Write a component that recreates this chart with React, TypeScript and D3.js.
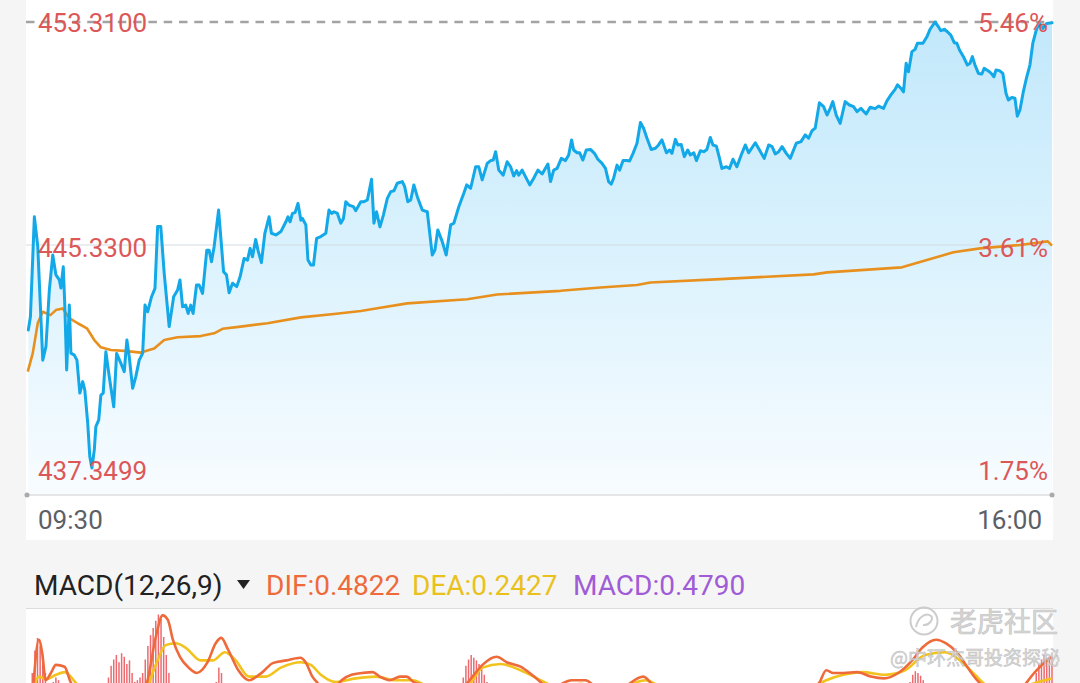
import React from "react";
import * as d3 from "d3";

type P = [number, number];

// Intraday price: [minutes since 09:30, price]
const pricePoints: P[] = [
  [0.5, 442.29], [1.3, 442.76], [2.8, 446.34], [4.1, 445.27], [5.1, 443.12], [6.0, 441.21], [7.2, 441.69], [8.5, 443.72],
  [9.8, 444.97], [11.0, 444.26], [12.3, 444.08], [12.9, 443.79], [13.8, 444.55], [14.4, 443.12], [15.1, 440.86], [16.1, 443.18],
  [16.7, 441.46], [18.0, 441.39], [19.0, 441.21], [20.1, 440.03], [21.2, 440.44], [22.0, 440.14], [23.1, 438.96], [23.9, 437.75],
  [24.7, 437.35], [25.6, 437.99], [26.2, 438.83], [27.3, 439.07], [28.1, 439.96], [29.0, 440.03], [30.0, 441.51], [31.3, 440.62],
  [33.0, 439.54], [34.1, 441.45], [35.7, 441.10], [37.0, 440.80], [38.0, 441.93], [38.9, 441.33], [40.2, 440.20], [41.4, 440.62],
  [42.7, 441.21], [44.0, 441.45], [44.9, 443.18], [45.9, 442.94], [47.4, 443.48], [48.7, 443.78], [49.7, 445.99], [50.9, 445.99],
  [52.2, 444.32], [54.1, 442.41], [55.8, 443.48], [57.3, 443.72], [58.2, 444.08], [59.2, 443.12], [60.4, 443.18], [61.3, 442.88],
  [62.3, 443.18], [63.2, 442.88], [64.5, 443.90], [65.5, 443.90], [66.8, 443.60], [68.4, 445.14], [69.3, 445.14], [70.2, 444.73],
  [71.2, 445.27], [72.9, 446.58], [74.8, 444.37], [75.9, 444.26], [76.9, 443.62], [78.2, 443.96], [79.8, 443.84], [81.1, 444.20],
  [82.6, 444.85], [83.9, 444.79], [84.9, 445.21], [85.8, 444.91], [87.0, 445.53], [87.9, 445.14], [89.2, 444.70], [90.5, 445.75],
  [92.1, 446.34], [93.0, 445.75], [94.7, 445.69], [96.6, 445.81], [98.5, 446.16], [99.3, 446.34], [100.1, 446.16], [101.0, 446.46],
  [102.0, 446.49], [103.1, 446.82], [104.2, 446.22], [104.8, 446.28], [106.1, 446.05], [106.9, 444.79], [108.0, 444.61], [109.0, 444.61],
  [110.2, 445.57], [111.8, 445.63], [113.7, 445.75], [114.9, 446.58], [115.9, 446.46], [116.8, 446.52], [118.1, 446.46], [119.4, 446.11],
  [120.4, 446.28], [121.3, 446.88], [122.5, 446.76], [124.2, 446.70], [125.1, 446.56], [127.0, 446.88], [128.2, 446.88], [129.5, 446.94],
  [131.1, 447.68], [132.0, 446.11], [133.0, 446.52], [134.3, 445.98], [135.6, 446.40], [137.1, 447.00], [138.4, 447.24], [139.6, 447.27],
  [140.9, 447.54], [142.8, 447.60], [143.7, 447.42], [144.9, 446.88], [146.0, 446.94], [147.2, 447.48], [148.5, 447.06], [150.4, 446.58],
  [152.3, 446.52], [154.2, 444.97], [155.2, 445.15], [156.3, 445.87], [158.0, 445.45], [159.5, 444.97], [161.2, 446.05], [162.4, 446.11],
  [164.3, 446.70], [166.2, 447.18], [167.3, 447.48], [168.8, 447.36], [170.7, 448.13], [171.9, 448.13], [173.2, 447.66], [175.1, 448.25],
  [176.4, 448.35], [177.4, 448.37], [178.3, 448.67], [179.5, 448.01], [181.2, 447.83], [182.7, 448.31], [184.0, 448.13], [185.2, 447.80],
  [186.3, 447.99], [187.1, 447.83], [188.4, 448.01], [189.7, 447.77], [191.3, 447.48], [192.8, 447.72], [194.4, 448.01], [196.0, 447.87],
  [198.2, 448.23], [199.2, 447.60], [200.4, 448.01], [201.7, 448.07], [203.3, 448.43], [204.9, 448.35], [206.1, 448.55], [207.2, 449.09],
  [208.0, 448.73], [209.3, 448.63], [210.3, 448.63], [211.5, 448.37], [212.8, 448.73], [214.4, 448.75], [215.9, 448.61], [217.2, 448.40],
  [218.8, 448.25], [220.1, 448.07], [221.3, 447.60], [222.3, 447.51], [223.2, 447.72], [224.5, 448.19], [225.5, 448.01], [226.8, 448.35],
  [228.3, 448.35], [229.3, 448.34], [230.6, 448.61], [232.1, 448.97], [233.4, 449.71], [234.6, 449.51], [235.9, 449.15], [237.5, 448.75],
  [239.1, 448.79], [240.3, 448.91], [241.6, 449.09], [243.3, 448.63], [244.5, 448.73], [245.4, 448.61], [246.7, 449.11], [247.6, 448.91],
  [248.9, 448.93], [250.1, 448.49], [251.4, 448.73], [252.4, 448.55], [253.7, 448.63], [254.7, 448.35], [256.2, 448.70], [257.5, 448.67],
  [258.7, 448.75], [260.0, 449.18], [261.0, 448.91], [262.3, 448.87], [263.5, 448.43], [264.4, 448.07], [266.1, 448.13], [267.3, 448.07],
  [268.6, 448.40], [270.1, 448.13], [272.0, 448.61], [273.3, 448.91], [274.6, 448.63], [277.1, 448.99], [278.7, 448.73], [280.5, 448.43],
  [282.2, 448.91], [283.5, 448.85], [284.7, 448.59], [286.0, 448.67], [287.3, 448.85], [288.9, 448.61], [290.4, 448.43], [292.7, 448.97],
  [294.5, 449.03], [296.1, 449.27], [297.4, 449.15], [298.7, 449.42], [299.9, 449.51], [301.5, 450.42], [303.1, 450.28], [304.4, 449.98],
  [305.6, 450.22], [306.6, 450.46], [307.9, 449.98], [309.4, 449.68], [311.3, 450.46], [312.9, 450.34], [314.5, 450.28], [315.8, 450.10],
  [317.3, 450.22], [319.3, 450.02], [320.8, 450.26], [322.7, 450.21], [324.0, 450.30], [325.9, 450.22], [327.2, 450.49], [328.7, 450.70],
  [330.3, 450.90], [331.2, 451.06], [332.5, 450.94], [333.5, 450.81], [334.5, 451.83], [335.4, 451.53], [336.7, 452.25], [337.9, 452.33],
  [338.8, 452.55], [340.9, 452.55], [342.4, 452.78], [343.6, 453.05], [345.5, 453.31], [346.8, 453.14], [347.7, 453.00], [349.0, 453.05],
  [350.2, 452.96], [351.5, 452.84], [352.8, 452.57], [353.8, 452.55], [354.8, 452.31], [356.3, 452.07], [357.8, 451.77], [358.8, 451.83],
  [359.7, 452.07], [360.7, 451.77], [362.0, 451.47], [363.3, 451.45], [364.2, 451.65], [365.2, 451.59], [366.2, 451.53], [367.1, 451.45],
  [367.9, 451.35], [368.7, 451.59], [370.0, 451.57], [371.3, 451.47], [372.5, 450.76], [373.4, 450.52], [374.7, 450.61], [375.9, 450.58],
  [376.8, 449.94], [377.8, 450.16], [379.1, 450.82], [380.4, 451.35], [381.6, 451.77], [382.7, 452.55], [384.2, 453.08], [385.4, 453.24],
  [386.5, 453.08], [388.0, 453.26], [390.0, 453.28],
];

// Average price line
const avgPoints: P[] = [
  [0.3, 440.80], [2.2, 441.46], [4.1, 442.54], [6.0, 442.94], [8.9, 442.82], [11.0, 443.00], [13.6, 443.06], [16.1, 442.71],
  [19.3, 442.53], [22.8, 442.35], [25.6, 441.93], [28.1, 441.67], [31.9, 441.57], [37.0, 441.54], [43.3, 441.48], [48.4, 441.63],
  [52.2, 441.93], [57.3, 442.03], [66.1, 442.07], [71.2, 442.17], [74.4, 442.33], [81.3, 442.41], [91.5, 442.53], [104.2, 442.74],
  [116.8, 442.86], [127.0, 442.97], [132.7, 443.06], [144.7, 443.24], [167.5, 443.39], [178.9, 443.56], [203.0, 443.69], [218.2, 443.81],
  [232.1, 443.90], [237.2, 443.99], [263.8, 444.11], [299.3, 444.28], [304.4, 444.35], [332.9, 444.53], [342.4, 444.79], [352.5, 445.07],
  [362.6, 445.21], [377.8, 445.33], [388.4, 445.46], [390.0, 445.31],
];

// MACD DIF line
const difPoints: P[] = [
  [2.5, 0.19], [4.5, 0.67], [5.8, 0.52], [7.1, 0.22], [9.1, 0.30], [11.0, 0.39], [14.3, 0.37], [16.3, 0.22], [20.5, 0.0],
  [28.1, -0.11], [35.7, -0.06], [43.3, 0.09], [45.6, 0.19], [49.0, 0.70], [51.6, 0.94], [53.6, 0.89], [55.5, 0.67], [58.2, 0.48],
  [61.5, 0.36], [64.6, 0.30], [68.7, 0.42], [71.8, 0.63], [73.9, 0.69], [76.5, 0.56], [80.4, 0.33], [84.4, 0.22], [89.6, 0.31],
  [93.5, 0.41], [98.8, 0.44], [104.0, 0.47], [106.0, 0.42], [108.6, 0.26], [110.5, 0.19], [113.7, 0.09], [117.1, 0.13], [119.7, 0.22],
  [123.5, 0.28], [127.6, 0.30], [131.5, 0.31], [134.2, 0.26], [138.0, 0.22], [142.0, 0.26], [144.4, 0.26], [147.1, 0.20], [151.1, 0.16],
  [157.4, 0.0], [163.1, 0.11], [166.9, 0.17], [169.5, 0.26], [173.3, 0.39], [178.7, 0.48], [182.5, 0.42], [187.8, 0.37], [193.0, 0.26],
  [199.2, 0.13], [207.2, 0.22], [212.5, 0.22], [218.2, 0.11], [225.8, 0.13], [234.5, 0.26], [239.1, 0.13], [248.6, 0.0], [263.8, -0.06],
  [279.0, 0.0], [294.2, 0.06], [301.4, 0.19], [304.1, 0.33], [306.8, 0.30], [310.6, 0.30], [315.9, 0.31], [321.1, 0.26], [326.1, 0.24],
  [331.5, 0.30], [336.8, 0.44], [340.6, 0.58], [345.9, 0.67], [349.7, 0.63], [353.8, 0.53], [357.7, 0.37], [361.5, 0.22], [366.4, 0.09],
  [372.1, 0.02], [377.8, 0.11], [383.5, 0.31], [387.3, 0.42], [390.0, 0.48],
];

// MACD DEA line
const deaPoints: P[] = [
  [1.5, 0.0], [4.6, 0.26], [7.2, 0.23], [11.0, 0.28], [14.3, 0.31], [18.6, 0.19], [24.3, 0.0], [31.9, -0.06], [39.5, -0.02],
  [45.2, 0.11], [49.0, 0.39], [52.8, 0.61], [56.6, 0.63], [60.4, 0.58], [66.1, 0.44], [70.7, 0.44], [75.3, 0.53], [79.4, 0.44],
  [84.4, 0.26], [90.8, 0.26], [96.6, 0.36], [104.2, 0.42], [108.0, 0.39], [111.8, 0.28], [117.5, 0.20], [125.1, 0.24], [132.7, 0.26],
  [140.3, 0.22], [146.7, 0.22], [153.6, 0.13], [163.1, 0.06], [168.8, 0.19], [173.3, 0.36], [180.2, 0.40], [187.8, 0.33], [195.4, 0.22],
  [203.0, 0.13], [210.6, 0.18], [218.2, 0.13], [227.7, 0.16], [235.3, 0.22], [242.9, 0.11], [256.2, 0.0], [279.0, -0.02], [296.1, 0.09],
  [304.1, 0.22], [310.6, 0.28], [317.8, 0.31], [326.5, 0.28], [334.1, 0.33], [341.7, 0.50], [349.3, 0.53], [355.0, 0.44], [360.7, 0.28],
  [366.4, 0.13], [374.0, 0.07], [381.6, 0.17], [390.0, 0.24],
];

// MACD histogram bars [minute, value]
const histBars: P[] = [
  [2, 0.3], [3, 0.55], [4, 0.69], [5, 0.6], [6, 0.45], [7, 0.3], [9, 0.15], [10, 0.2], [11, 0.25], [12, 0.22],
  [31, 0.25], [32, 0.38], [33, 0.45], [34, 0.5], [35, 0.42], [36, 0.52], [37, 0.48], [38, 0.4], [39, 0.44], [40, 0.3], [41, 0.2],
  [42, 0.22], [43, 0.25],
  [44, 0.3], [45, 0.45], [46, 0.6], [47, 0.72], [48, 0.8], [49, 0.88], [50, 0.95], [51, 0.9], [52, 0.7], [53, 0.5], [54, 0.3],
  [72, 0.2], [73, 0.36], [74, 0.3],
  [166, 0.25], [167, 0.38], [168, 0.45], [169, 0.5], [170, 0.47], [171, 0.44], [172, 0.4], [173, 0.35], [174, 0.28], [175, 0.2],
  [336, 0.2], [337, 0.28], [338, 0.32], [339, 0.3], [340, 0.27], [341, 0.22],
  [384, 0.3], [385, 0.4], [386, 0.45], [387, 0.5], [388, 0.46], [389, 0.48], [390, 0.479],
];

const priceTicks = [453.31, 445.33, 437.3499];
const priceTickLabels = ["453.3100", "445.3300", "437.3499"];
const pctTickLabels = ["5.46%", "3.61%", "1.75%"];
const timeLabels = ["09:30", "16:00"];
const macdTitle = "MACD(12,26,9)";
const macdLegendLabels = ["DIF:0.4822", "DEA:0.2427", "MACD:0.4790"];

const FONT = "Roboto, 'Noto Sans', sans-serif";

export default function App() {
  const x = d3.scaleLinear().domain([0, 390]).range([27, 1052]);
  const y = d3.scaleLinear().domain([437.3499, 453.31]).range([468, 22]);
  const my = d3.scaleLinear().domain([0, 1]).range([700, 610]);

  const priceLine = d3.line<P>().x((d) => x(d[0])).y((d) => y(d[1]));
  const priceArea = d3.area<P>().x((d) => x(d[0])).y0(495).y1((d) => y(d[1]));
  const macdLine = d3.line<P>().x((d) => x(d[0])).y((d) => my(d[1])).curve(d3.curveMonotoneX);

  const labelOffsets = [9.7, 11.7, 12];
  const legendX = [266, 412, 573];
  const legendColors = ["#ef6a3a", "#e9c11d", "#a05cd6"];

  return (
    <svg
      width={1080}
      height={683}
      style={{ position: "absolute", left: 0, top: 0, display: "block" }}
      fontFamily={FONT}
    >
      <defs>
        <linearGradient id="fillGrad" x1="0" y1="22" x2="0" y2="495" gradientUnits="userSpaceOnUse">
          <stop offset="0" stopColor="#c2e8fb" />
          <stop offset="0.5" stopColor="#dbf2fd" />
          <stop offset="1" stopColor="#f8fcff" />
        </linearGradient>
        <clipPath id="macdClip">
          <rect x={26} y={609} width={1027} height={80} />
        </clipPath>
      </defs>

      {/* page background */}
      <rect x={0} y={0} width={1080} height={683} fill="#f5f5f5" />
      {/* price card */}
      <rect x={26} y={0} width={1027} height={540} fill="#ffffff" />
      {/* macd plot */}
      <rect x={26} y={609} width={1027} height={74} fill="#ffffff" />

      {/* area fill */}
      <path d={priceArea(pricePoints) || ""} fill="url(#fillGrad)" />

      {/* mid grid line */}
      <line x1={26} x2={1052} y1={y(priceTicks[1])} y2={y(priceTicks[1])} stroke="#d3dde3" strokeWidth={1} />
      {/* top dashed */}
      <line x1={26} x2={1052} y1={y(priceTicks[0])} y2={y(priceTicks[0])} stroke="#a3a3a3" strokeWidth={2.5} strokeDasharray="8.5 6.8" />

      {/* avg line */}
      <path d={priceLine(avgPoints) || ""} fill="none" stroke="#e8901e" strokeWidth={2.6} strokeLinejoin="round" />
      {/* price line */}
      <path d={priceLine(pricePoints) || ""} fill="none" stroke="#13a8e8" strokeWidth={3} strokeLinejoin="round" strokeLinecap="round" />

      {/* axis line */}
      <line x1={26} x2={1052} y1={495} y2={495} stroke="#dedede" strokeWidth={1.5} />
      <circle cx={27} cy={495} r={2.5} fill="#aaaaaa" />
      <circle cx={1052} cy={495} r={2.5} fill="#aaaaaa" />

      {/* price labels */}
      {priceTickLabels.map((t, i) => (
        <text key={"pl" + i} x={38} y={y(priceTicks[i]) + labelOffsets[i]} fontSize={26} fill="#dc5858">
          {t}
        </text>
      ))}
      {pctTickLabels.map((t, i) => (
        <text key={"pp" + i} x={1048} y={y(priceTicks[i]) + labelOffsets[i]} fontSize={26} fill="#dc5858" textAnchor="end">
          {t}
        </text>
      ))}

      {/* time labels */}
      <text x={38} y={529} fontSize={26} fill="#5c6066">{timeLabels[0]}</text>
      <text x={1042} y={529} fontSize={26} fill="#5c6066" textAnchor="end">{timeLabels[1]}</text>

      {/* MACD header */}
      <text x={34} y={595} fontSize={28} fill="#222222">{macdTitle}</text>
      <path d="M237,580 L250,580 L243.5,589 Z" fill="#222222" />
      {macdLegendLabels.map((t, i) => (
        <text key={"ml" + i} x={legendX[i]} y={595} fontSize={28} fill={legendColors[i]}>
          {t}
        </text>
      ))}
      <line x1={26} x2={1053} y1={608.5} y2={608.5} stroke="#dcdcdc" strokeWidth={1} />

      {/* MACD plot */}
      <g clipPath="url(#macdClip)">
        {histBars.map((d, i) => (
          <rect
            key={"hb" + i}
            x={x(d[0]) - 0.75}
            y={my(Math.max(0, d[1]))}
            width={1.5}
            height={Math.abs(my(d[1]) - my(0))}
            fill="#ec6a70"
          />
        ))}
        <path d={macdLine(deaPoints) || ""} fill="none" stroke="#f2c31c" strokeWidth={2.6} />
        <path d={macdLine(difPoints) || ""} fill="none" stroke="#ef6a3a" strokeWidth={2.6} />
      </g>

      {/* watermark */}
      <g opacity={0.9}>
        <circle cx={924} cy={621} r={13.5} fill="none" stroke="#c8c8c8" strokeWidth={2} />
        <path d="M916,627 C918,617 926,612 931,616 C934,619 929,626 923,625" fill="none" stroke="#c8c8c8" strokeWidth={2} />
        <text x={950} y={632} fontSize={27} fill="#d2d2d2" stroke="#bdbdbd" strokeWidth={0.6}
          fontFamily="'Noto Sans CJK SC', sans-serif">老虎社区</text>
        <text x={890} y={665} fontSize={19} fill="#d6d6d6" stroke="#b8b8b8" strokeWidth={0.5}
          fontFamily="'Noto Sans CJK SC', sans-serif">@中环杰哥投资探秘</text>
      </g>
    </svg>
  );
}
